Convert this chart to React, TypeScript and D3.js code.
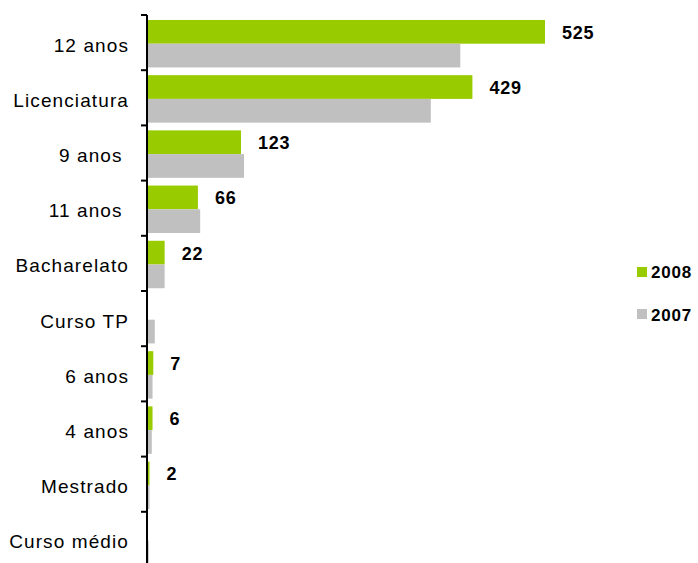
import React from "react";
import * as d3 from "d3";

const categories = ["12 anos", "Licenciatura", "9 anos ", "11 anos ", "Bacharelato", "Curso TP", "6 anos", "4 anos", "Mestrado", "Curso médio"];
const values2008 = [525, 429, 123, 66, 22, 0, 7, 6, 2, 0];
const values2007 = [413, 374, 127, 69, 22, 9, 6, 5, 2, 1];
const seriesNames = ["2008", "2007"];
const colors = ["#99CC00", "#C0C0C0"];

const W = 698;
const H = 563;

export default function App() {
  const y = d3.scaleBand<string>().domain(categories).range([15, 567]);
  const x = d3.scaleLinear().domain([0, 525]).range([148, 545]);
  const bw = y.bandwidth();
  const font = "'Liberation Sans', Arial, sans-serif";
  return (
    <svg width={W} height={H} style={{ position: "absolute", left: 0, top: 0 }}>
      <rect width={W} height={H} fill="#fff" />
      {categories.map((c, i) => {
        const y0 = y(c)!;
        const gy = y0 + bw * 0.09;
        const bh = bw * 0.43;
        return (
          <g key={c}>
            <rect x={x(0)} y={gy} width={x(values2008[i]) - x(0)} height={bh} fill={colors[0]} />
            <rect x={x(0)} y={gy + bh} width={x(values2007[i]) - x(0)} height={bh} fill={colors[1]} />
            {values2008[i] > 0 && (
              <text x={x(values2008[i]) + 17} y={gy + bh / 2 + 7} fontFamily={font} fontWeight="bold" fontSize={18} letterSpacing={0.8} fill="#000">
                {values2008[i]}
              </text>
            )}
            <text x={129} y={y0 + bw / 2 + 9} textAnchor="end" fontFamily={font} fontSize={19} letterSpacing={1.1} fill="#000" style={{ whiteSpace: "pre" }}>
              {c}
            </text>
          </g>
        );
      })}
      <line x1={147} x2={147} y1={15} y2={567} stroke="#000" strokeWidth={2} />
      {y.domain().map((c) => (
        <line key={c} x1={141} x2={147} y1={y(c)!} y2={y(c)!} stroke="#000" strokeWidth={2} />
      ))}
      <line x1={141} x2={147} y1={567} y2={567} stroke="#000" strokeWidth={2} />
      {seriesNames.map((s, i) => (
        <g key={s}>
          <rect x={637} y={267 + i * 42} width={10} height={10} fill={colors[i]} />
          <text x={651} y={278 + i * 43} fontFamily={font} fontWeight="bold" fontSize={17} letterSpacing={0.8} fill="#000">
            {s}
          </text>
        </g>
      ))}
    </svg>
  );
}
